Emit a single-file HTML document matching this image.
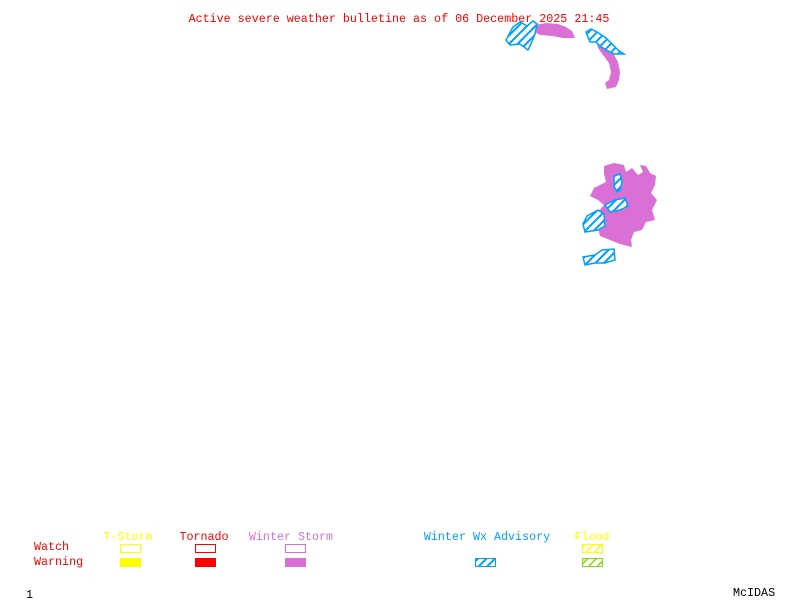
<!DOCTYPE html>
<html><head><style>
html,body{margin:0;padding:0;background:#fff;}
svg{display:block;}
text{font-family:"Liberation Mono",monospace;font-size:11.7px;}
</style></head><body>
<svg width="800" height="600" viewBox="0 0 800 600" xmlns="http://www.w3.org/2000/svg">
<defs>
<pattern id="hb" patternUnits="userSpaceOnUse" width="6" height="6" patternTransform="rotate(45)">
<rect width="6" height="6" fill="#fff"/><rect width="2" height="6" fill="#00a0ff"/></pattern>
<pattern id="hy" patternUnits="userSpaceOnUse" width="6" height="6" patternTransform="rotate(45)">
<rect width="6" height="6" fill="#fff"/><rect width="1.5" height="6" fill="#ffff00"/></pattern>
<pattern id="hg" patternUnits="userSpaceOnUse" width="6" height="6" patternTransform="rotate(45)">
<rect width="6" height="6" fill="#fff"/><rect width="1.5" height="6" fill="#80e000"/></pattern>
</defs>
<text x="399" y="22" fill="#ff0000" text-anchor="middle">Active severe weather bulletine as of 06 December 2025 21:45</text>

<!-- top magenta -->
<path d="M535,25 L546,23 L558,24 L566,27 L572,31 L575,38 L563,38 L552,36 L540,35 L535,32 Z" fill="#da70d6"/>
<path d="M596,40 L603,43 L609,49 L614,55 L618,62 L620,72 L619,80 L616,87 L607,89 L605,83 L609,80 L611,72 L609,63 L603,55 L598,48 Z" fill="#da70d6"/>
<!-- top blue -->
<path d="M513,27 L520,22 L527,26 L533,21 L537,24 L535,34 L531,44 L528,50 L520,44 L510,45 L506,40 Z" fill="url(#hb)" stroke="#00a0ff" stroke-width="1.5"/>
<path d="M586,32 L591,29 L597,32 L606,38 L612,44 L618,50 L624,54 L614,54 L606,50 L600,46 L596,42 L590,42 Z" fill="url(#hb)" stroke="#00a0ff" stroke-width="1.5"/>

<!-- middle magenta -->
<path d="M604,166 L614,163 L624,165 L626,172 L632,168 L638,175 L643,172 L640,165 L646,166 L650,173 L656,176 L655,185 L651,193 L657,200 L652,210 L655,220 L646,222 L642,230 L634,232 L631,240 L632,247 L620,244 L610,240 L600,236 L598,228 L602,220 L598,212 L604,205 L598,200 L590,196 L594,188 L600,185 L606,182 L604,174 Z" fill="#da70d6"/>
<!-- middle blue -->
<path d="M614,176 L620,174 L622,182 L620,190 L617,192 L614,186 Z" fill="url(#hb)" stroke="#00a0ff" stroke-width="1.5"/>
<path d="M605,205 L615,200 L625,198 L628,206 L620,210 L610,212 Z" fill="url(#hb)" stroke="#00a0ff" stroke-width="1.5"/>
<path d="M587,216 L598,210 L604,214 L605,226 L598,230 L585,232 L583,224 Z" fill="url(#hb)" stroke="#00a0ff" stroke-width="1.5"/>
<path d="M583,257 L595,255 L602,250 L614,249 L615,260 L605,263 L595,263 L585,265 Z" fill="url(#hb)" stroke="#00a0ff" stroke-width="1.5"/>

<!-- legend -->
<text x="128" y="540" fill="#ffff00" text-anchor="middle">T-Storm</text>
<text x="204" y="540" fill="#ff0000" text-anchor="middle">Tornado</text>
<text x="291" y="540" fill="#da70d6" text-anchor="middle">Winter Storm</text>
<text x="487" y="540" fill="#00a0ff" text-anchor="middle">Winter Wx Advisory</text>
<text x="592" y="540" fill="#ffff00" text-anchor="middle">Flood</text>
<text x="34" y="550" fill="#ff0000">Watch</text>
<text x="34" y="565" fill="#ff0000">Warning</text>
<rect x="120.5" y="544.5" width="20" height="8" fill="none" stroke="#ffff00"/>
<rect x="195.5" y="544.5" width="20" height="8" fill="none" stroke="#ff0000"/>
<rect x="285.5" y="544.5" width="20" height="8" fill="none" stroke="#da70d6"/>
<rect x="582.5" y="544.5" width="20" height="8" fill="url(#hy)" stroke="#ffff00"/>
<rect x="120" y="558" width="21" height="9" fill="#ffff00"/>
<rect x="195" y="558" width="21" height="9" fill="#ff0000"/>
<rect x="285" y="558" width="21" height="9" fill="#da70d6"/>
<rect x="475.5" y="558.5" width="20" height="8" fill="url(#hb)" stroke="#00a0ff"/>
<rect x="582.5" y="558.5" width="20" height="8" fill="url(#hg)" stroke="#80e000"/>
<text x="26" y="598" fill="#000">1</text>
<text x="733" y="596" fill="#000">McIDAS</text>
</svg>
</body></html>
